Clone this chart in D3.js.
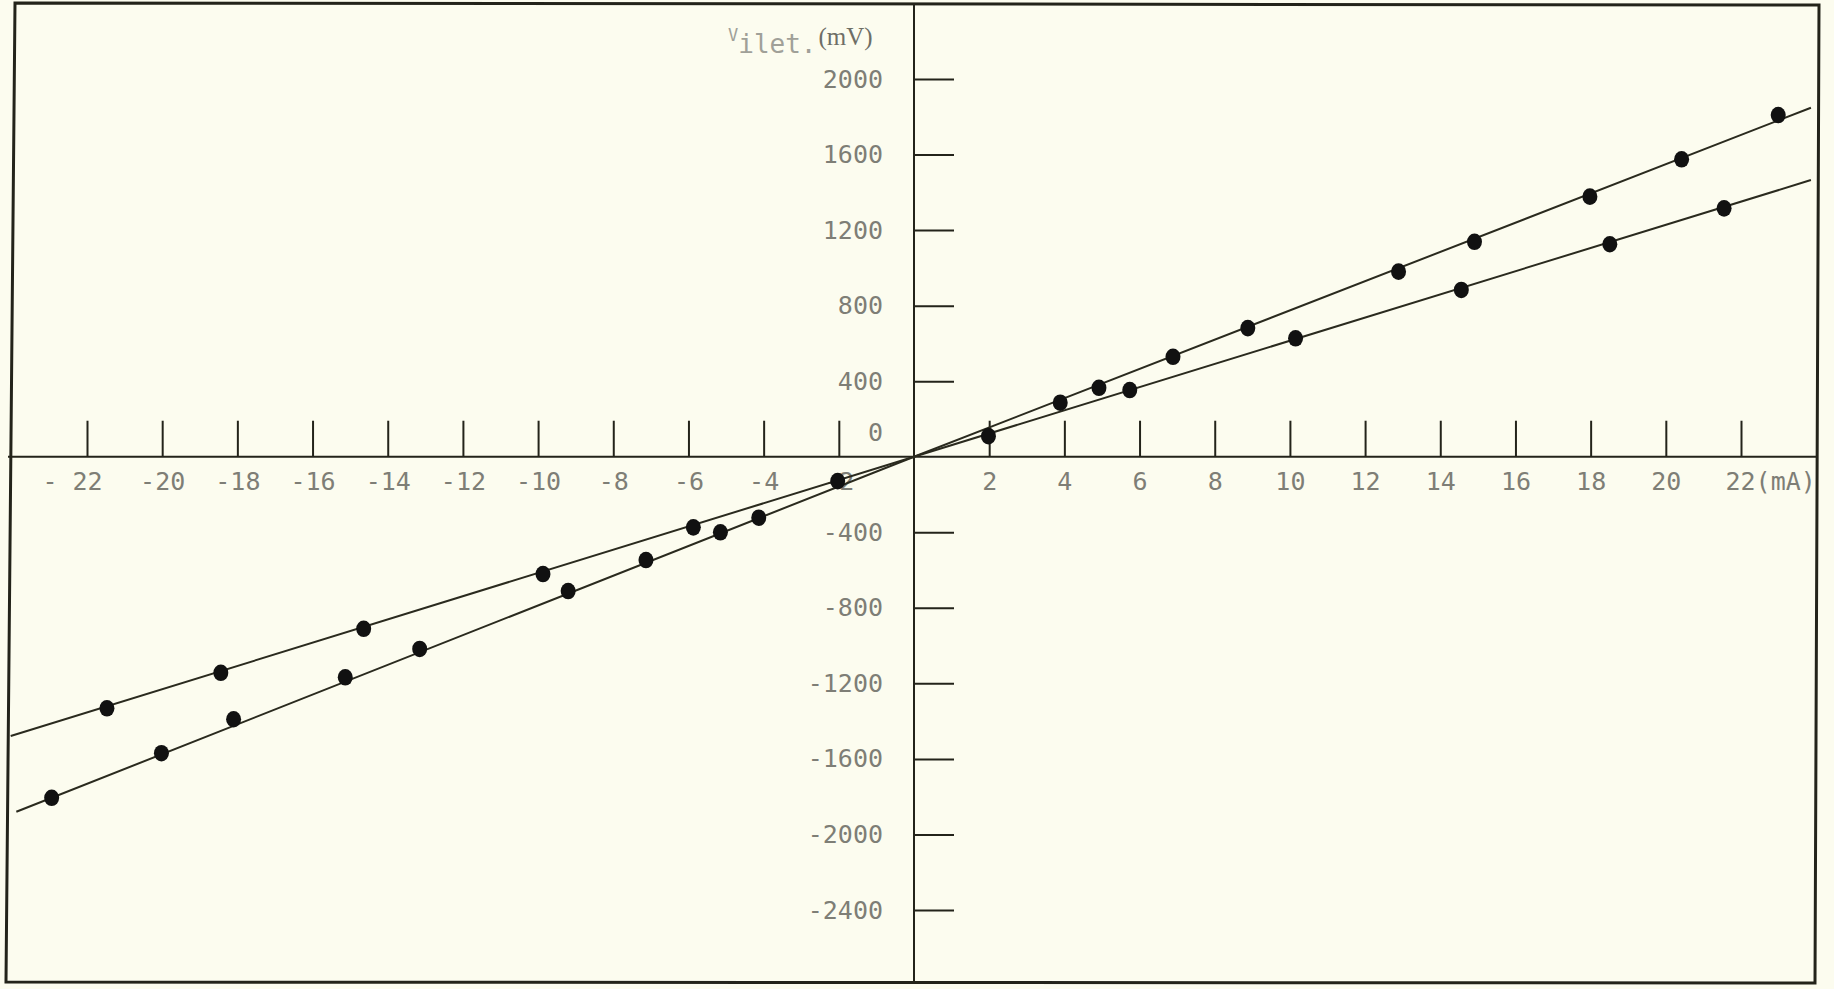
<!DOCTYPE html>
<html>
<head>
<meta charset="utf-8">
<script src="https://cdn.jsdelivr.net/npm/d3@7"></script>
<style>
  html, body { margin: 0; padding: 0; background: #fcfcef; }
  svg { display: block; }
</style>
</head>
<body>
<svg id="chart" width="1834" height="989"></svg>
<script>
// steeper branch: current (mA) and voltage (mV)
const steepCurrent = [-22.94, -20.02, -18.10, -15.13, -13.15, -9.20, -7.13, -5.15, -4.13, -2.03,
  1.98, 3.89, 4.92, 6.89, 8.88, 12.89, 14.91, 17.98, 20.42, 22.99];
const steepVoltage = [-1806, -1570, -1390, -1168, -1018, -711, -547, -400, -323, -129,
  109, 286, 365, 529, 681, 980, 1138, 1377, 1575, 1809];

// flatter branch
const flatCurrent = [-21.47, -18.44, -14.64, -9.87, -5.87, 5.74, 10.15, 14.56, 18.51, 21.55];
const flatVoltage = [-1332, -1144, -911, -621, -374, 353, 627, 883, 1125, 1315];

// hand drawn fit lines, end to end through the origin
const steepLineCurrent = [-23.88, 0, 23.86];
const steepLineVoltage = [-1880, 0, 1848];
const flatLineCurrent = [-24.03, 0, 23.86];
const flatLineVoltage = [-1479, 0, 1465];

const xTicks = [-22, -20, -18, -16, -14, -12, -10, -8, -6, -4, -2, 2, 4, 6, 8, 10, 12, 14, 16, 18, 20, 22];
const yTicks = [-2400, -2000, -1600, -1200, -800, -400, 400, 800, 1200, 1600, 2000];

const ink = '#23231a';
const textGrey = '#7e7e76';
const mono = "'DejaVu Sans Mono', monospace";

const svg = d3.select('#chart');
const x = d3.scaleLinear().domain([-22, 22]).range([87, 1741]);
const y = d3.scaleLinear().domain([-2400, 2000]).range([910, 79]);

// paper frame (the scan is slightly skewed)
svg.append('path')
  .attr('d', 'M15,3 L1819,5 L1815,983 L6,982 Z')
  .attr('fill', '#fcfcef')
  .attr('stroke', ink)
  .attr('stroke-width', 3);

// axis lines across the whole sheet
svg.append('line')
  .attr('x1', 8).attr('x2', 1817)
  .attr('y1', y(0)).attr('y2', y(0))
  .attr('stroke', ink).attr('stroke-width', 2);
svg.append('line')
  .attr('x1', x(0)).attr('x2', x(0))
  .attr('y1', 4).attr('y2', 983)
  .attr('stroke', ink).attr('stroke-width', 2);

const xFormat = (d) => d === -22 ? '- 22' : d === 22 ? '22(mA)' : String(d);
const xAxis = svg.append('g')
  .attr('transform', `translate(0,${y(0)})`)
  .call(d3.axisBottom(x).tickValues(xTicks).tickSizeInner(-36).tickSizeOuter(0).tickPadding(16).tickFormat(xFormat));
xAxis.select('.domain').remove();
xAxis.selectAll('.tick line').attr('stroke', ink).attr('stroke-width', 2);
xAxis.selectAll('.tick text')
  .attr('font-family', mono).attr('font-size', 25).attr('fill', textGrey)
  .attr('text-anchor', (d) => d === 22 ? 'start' : 'middle')
  .attr('dx', (d) => d === 22 ? -16 : d === -22 ? -15 : 0);

const yAxis = svg.append('g')
  .attr('transform', `translate(${x(0)},0)`)
  .call(d3.axisLeft(y).tickValues(yTicks).tickSizeInner(-40).tickSizeOuter(0).tickPadding(31).tickFormat(String));
yAxis.select('.domain').remove();
yAxis.selectAll('.tick line').attr('stroke', ink).attr('stroke-width', 2);
yAxis.selectAll('.tick text')
  .attr('font-family', mono).attr('font-size', 25).attr('fill', textGrey);

// the zero label sits above the current axis
svg.append('text')
  .attr('x', x(0) - 31).attr('y', y(0) - 16)
  .attr('text-anchor', 'end')
  .attr('font-family', mono).attr('font-size', 25).attr('fill', textGrey)
  .text('0');

// axis title
const title = svg.append('text').attr('x', 728).attr('y', 41);
title.append('tspan').attr('font-family', mono).attr('font-size', 17).attr('fill', '#a0a098').text('V');
title.append('tspan').attr('dy', 12).attr('font-family', mono).attr('font-size', 26).attr('fill', '#a0a098').text('ilet.');
title.append('tspan').attr('dy', -8).attr('dx', 2).attr('font-family', "'Liberation Serif', serif").attr('font-size', 25).attr('fill', '#6e6e66').text('(mV)');

// fit lines
const line = d3.line().x((d) => x(d[0])).y((d) => y(d[1]));
const fits = [
  d3.zip(steepLineCurrent, steepLineVoltage),
  d3.zip(flatLineCurrent, flatLineVoltage),
];
svg.selectAll('.fit')
  .data(fits)
  .enter().append('path')
  .attr('class', 'fit')
  .attr('d', line)
  .attr('fill', 'none')
  .attr('stroke', '#2a2a1e')
  .attr('stroke-width', 2);

// measured points
const points = d3.zip(steepCurrent, steepVoltage).concat(d3.zip(flatCurrent, flatVoltage));
svg.selectAll('.pt')
  .data(points)
  .enter().append('ellipse')
  .attr('class', 'pt')
  .attr('cx', (d) => x(d[0]))
  .attr('cy', (d) => y(d[1]))
  .attr('rx', 7.5)
  .attr('ry', 8.3)
  .attr('fill', '#111111');
</script>
</body>
</html>
